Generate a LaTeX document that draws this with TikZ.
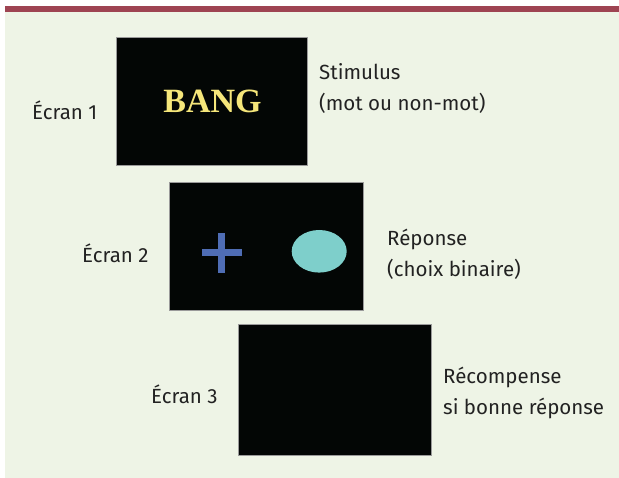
\documentclass[tikz,border=0pt]{standalone}
\usetikzlibrary{shapes.geometric}
\usepackage{fontspec}
\setmainfont{Fira Sans}
\newfontfamily\bangfont{Liberation Serif}
\definecolor{bgc}{HTML}{EEF4E6}
\definecolor{barc}{HTML}{9E4452}
\definecolor{scr}{HTML}{030605}
\definecolor{edge}{HTML}{9A9A9A}
\definecolor{bangc}{HTML}{F5E67A}
\definecolor{crossc}{HTML}{4F6DB5}
\definecolor{ovalc}{HTML}{7ECFCB}
\definecolor{txt}{HTML}{222222}
\begin{document}
\begin{tikzpicture}[x=1pt,y=-1pt,
  screen/.style={fill=scr,draw=edge,line width=0.6pt},
  lab/.style={anchor=west,inner sep=0pt,text=txt,font=\fontsize{20.5}{31}\selectfont,align=left}]
\useasboundingbox (0,0) rectangle (619,478);
\fill[white] (0,0) rectangle (619,478);
\fill[bgc] (5,6) rectangle (619,478);
\fill[barc] (5,6) rectangle (619,12.3);
% screens
\draw[screen] (116,37) rectangle (307.5,165.7);
\draw[screen] (169.3,182.3) rectangle (363.3,310.7);
\draw[screen] (238.7,324.3) rectangle (431.7,455);
% BANG
\node[text=bangc,font=\bangfont\bfseries\fontsize{34}{34}\selectfont,inner sep=0pt] (bang) at (212.5,101) {BANG};
% cross
\fill[crossc] (201.7,248.9) rectangle (241.7,255.6);
\fill[crossc] (218.3,232.7) rectangle (225,272.7);
\node[fill=ovalc,ellipse,draw=none,minimum width=55pt,minimum height=42.6pt,inner sep=0pt] (oval) at (319.2,251.3) {};
% labels
\node[lab] (e1) at (32,110) {Écran 1};
\node[lab] (t1) at (319,88.5) {Stimulus\\(mot ou non-mot)};
\node[lab] (e2) at (82,253) {Écran 2};
\node[lab] (t2) at (387,254.5) {Réponse\\(choix binaire)};
\node[lab] (e3) at (151,394) {Écran 3};
\node[lab] (t3) at (443,393) {Récompense\\si bonne réponse};
\end{tikzpicture}
\end{document}
